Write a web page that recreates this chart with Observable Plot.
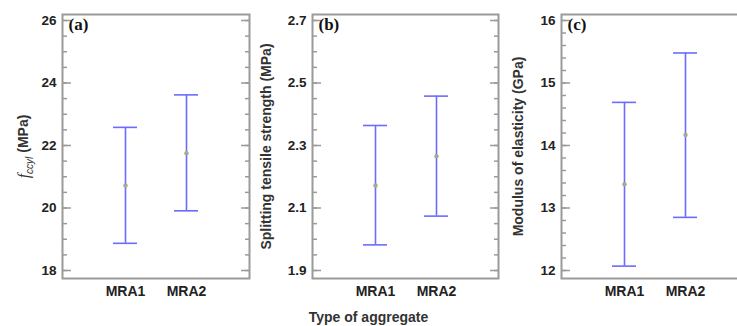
<!DOCTYPE html>
<html><head><meta charset="utf-8">
<script src="https://cdn.jsdelivr.net/npm/d3@7"></script>
<script src="https://cdn.jsdelivr.net/npm/@observablehq/plot@0.6"></script>
<style>
body{margin:0;background:#fff;}
#wrap{position:relative;width:737px;height:326px;overflow:hidden;font-family:"Liberation Sans",Arial,sans-serif;}
.panel{position:absolute;top:0;}
.panel svg{max-width:none !important;}
#xcap{position:absolute;top:309px;left:0;width:737px;text-align:center;font-weight:bold;font-size:14px;line-height:16px;color:#333;}
</style></head><body>
<div id="wrap"><div id="xcap">Type of aggregate</div></div>
<script>
// categories
const aggregates = ["MRA1", "MRA2"];
// (a) compressive strength f_ccyl (MPa)
const fcMean = [20.72, 21.75];
const fcLow = [18.87, 19.91];
const fcHigh = [22.58, 23.62];
// (b) splitting tensile strength (MPa)
const stMean = [2.172, 2.266];
const stLow = [1.982, 2.074];
const stHigh = [2.364, 2.458];
// (c) modulus of elasticity (GPa)
const meMean = [13.38, 14.17];
const meLow = [12.07, 12.85];
const meHigh = [14.69, 15.48];
// tick labels
const fcTicks = [18, 20, 22, 24, 26];
const stTicks = [1.9, 2.1, 2.3, 2.5, 2.7];
const meTicks = [12, 13, 14, 15, 16];
const fcMinor = d3.range(18, 26.01, 0.5);
const stMinor = d3.range(0, 17).map(i => 1.9 + i * 0.05);
const meMinor = d3.range(0, 21).map(i => 12 + i * 0.2);

const frameColor = "#9a9a9a";
const barColor = "#6b6bff";

function panel(o) {
  const data = aggregates.map((a, i) => ({agg: a, mean: o.mean[i], low: o.low[i], high: o.high[i]}));
  const plot = Plot.plot({
    width: o.width, height: 326,
    marginLeft: o.marginLeft, marginRight: o.marginRight, marginTop: 14, marginBottom: 48,
    style: {fontFamily: "Liberation Sans, Arial, sans-serif", background: "transparent", overflow: "visible", maxWidth: "none"},
    x: {type: "band", domain: aggregates, paddingInner: 0.613, paddingOuter: 0.815},
    y: {domain: o.domain, insetTop: 6, insetBottom: 8},
    marks: [
      Plot.axisY(o.minor, {anchor: "left", tickSize: 5, dx: 5, text: null, label: null, stroke: frameColor, strokeWidth: 1.5}),
      Plot.axisY(o.major, {anchor: "left", tickSize: 9, dx: 9, text: null, label: null, stroke: frameColor, strokeWidth: 1.5}),
      Plot.axisY(o.minor, {anchor: "right", tickSize: 5, dx: -5, text: null, label: null, stroke: frameColor, strokeWidth: 1.5}),
      Plot.axisY(o.major, {anchor: "right", tickSize: 9, dx: -9, text: null, label: null, stroke: frameColor, strokeWidth: 1.5}),
      Plot.axisY(o.major, {anchor: "left", tickSize: 0, tickPadding: 6, tickFormat: o.fmt, label: null, fontSize: 13.5, fontWeight: "bold", fill: "#222"}),
      Plot.axisY(o.major, {anchor: "left", tickSize: 0, text: null, label: o.label, labelAnchor: "center", labelOffset: o.labelOffset, labelArrow: "none", fontSize: 14, fontWeight: "bold", fill: "#333"}),
      Plot.axisX({anchor: "bottom", tickSize: 0, tickPadding: 8, label: null, fontSize: 14, fontWeight: "bold", fill: "#222"}),
      Plot.frame({stroke: frameColor, strokeWidth: 2}),
      Plot.ruleX(data, {x: "agg", y1: "low", y2: "high", stroke: barColor, strokeWidth: 1.6}),
      Plot.tickY(data, {x: "agg", y: "low", stroke: barColor, strokeWidth: 1.6}),
      Plot.tickY(data, {x: "agg", y: "high", stroke: barColor, strokeWidth: 1.6}),
      Plot.dot(data, {x: "agg", y: "mean", r: 2.2, fill: "#a9a98e", stroke: "none"}),
      Plot.text([o.tag], {frameAnchor: "top-left", dx: 6, dy: 3, text: d => d, textAnchor: "start", lineAnchor: "top",
        fontFamily: "Liberation Serif, Times New Roman, serif", fontWeight: "bold", fontSize: 17, fill: "#111"})
    ]
  });
  const div = document.createElement("div");
  div.className = "panel";
  div.style.left = o.left + "px";
  div.style.width = o.width + "px";
  div.appendChild(plot);
  document.getElementById("wrap").appendChild(div);
  return plot;
}

const pa = panel({left: 0, width: 252, marginLeft: 62, marginRight: 3, domain: [18, 26], major: fcTicks, minor: fcMinor,
  fmt: d3.format("d"), tag: "(a)", label: "fccyl (MPa)", labelOffset: 43, mean: fcMean, low: fcLow, high: fcHigh});
panel({left: 250, width: 250, marginLeft: 62, marginRight: 2, domain: [1.9, 2.7], major: stTicks, minor: stMinor,
  fmt: d3.format(".1f"), tag: "(b)", label: "Splitting tensile strength (MPa)", labelOffset: 51, mean: stMean, low: stLow, high: stHigh});
panel({left: 500, width: 249, marginLeft: 61, marginRight: 1, domain: [12, 16], major: meTicks, minor: meMinor,
  fmt: d3.format("d"), tag: "(c)", label: "Modulus of elasticity (GPa)", labelOffset: 48, mean: meMean, low: meLow, high: meHigh});

// rich text for the f_ccyl label
const lab = d3.select(pa).select('g[aria-label="y-axis label"] text');
if (!lab.empty()) {
  lab.text(null);
  lab.append("tspan").attr("font-style", "italic").attr("font-weight", "normal").attr("font-family", "Liberation Serif, serif").attr("font-size", 16).text("f");
  lab.append("tspan").attr("font-style", "italic").attr("font-weight", "normal").attr("font-size", 10).attr("dy", "0.35em").text("ccyl");
  lab.append("tspan").attr("dy", "-0.35em").text(" (MPa)");
}
</script>
</body></html>
